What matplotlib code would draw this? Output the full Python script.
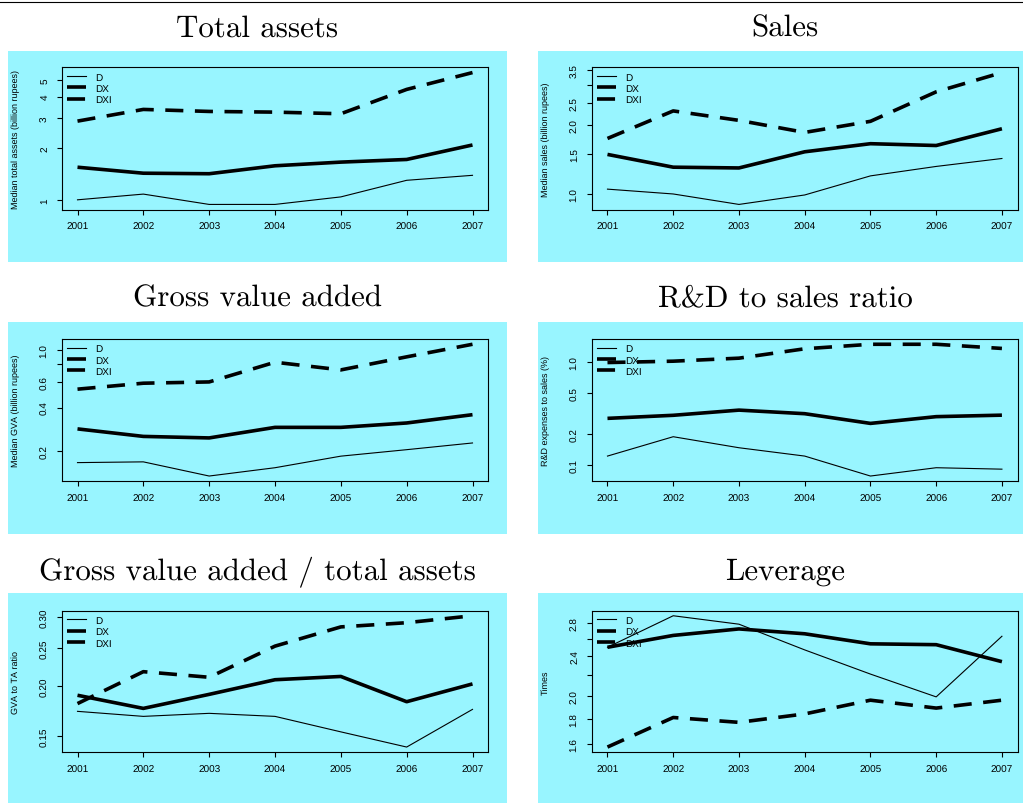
import matplotlib
matplotlib.use("Agg")
import numpy as np
import matplotlib.pyplot as plt
from matplotlib.patches import Rectangle
from matplotlib.lines import Line2D
from matplotlib.ticker import FixedLocator, FixedFormatter, NullLocator

plt.rcParams["font.family"] = ["Liberation Sans", "DejaVu Sans"]
plt.rcParams["text.hinting"] = "no_hinting"
plt.rcParams["text.hinting_factor"] = 1

W, H = 1023, 804
CYAN = "#98F5FF"  # R "cadetblue1"

years = [2001, 2002, 2003, 2004, 2005, 2006, 2007]

# median total assets (billion rupees)
ta_d = [1.00, 1.08, 0.94, 0.94, 1.04, 1.30, 1.39]
ta_dx = [1.55, 1.43, 1.42, 1.58, 1.66, 1.72, 2.09]
ta_dxi = [2.88, 3.37, 3.28, 3.25, 3.18, 4.41, 5.53]

# median sales (billion rupees)
sales_d = [1.05, 1.00, 0.90, 0.99, 1.20, 1.32, 1.43]
sales_dx = [1.49, 1.31, 1.30, 1.53, 1.66, 1.63, 1.93]
sales_dxi = [1.75, 2.31, 2.10, 1.86, 2.08, 2.80, 3.40]

# median gross value added (billion rupees)
gva_d = [0.167, 0.169, 0.135, 0.154, 0.185, 0.205, 0.228]
gva_dx = [0.285, 0.253, 0.247, 0.292, 0.292, 0.313, 0.357]
gva_dxi = [0.535, 0.588, 0.600, 0.820, 0.726, 0.893, 1.090]

# R&D expenses to sales (%)
rd_d = [0.123, 0.189, 0.148, 0.123, 0.079, 0.095, 0.092]
rd_dx = [0.284, 0.304, 0.341, 0.315, 0.254, 0.295, 0.305]
rd_dxi = [0.98, 1.01, 1.08, 1.33, 1.47, 1.47, 1.34]

# GVA to total assets ratio
gta_d = [0.173, 0.168, 0.171, 0.168, 0.1535, 0.1405, 0.175]
gta_dx = [0.190, 0.176, 0.191, 0.208, 0.212, 0.183, 0.203]
gta_dxi = [0.181, 0.218, 0.211, 0.253, 0.283, 0.290, 0.302]

# leverage (times)
lev_d = [2.50, 2.89, 2.78, 2.47, 2.21, 1.99, 2.63]
lev_dx = [2.50, 2.64, 2.72, 2.66, 2.54, 2.53, 2.34]
lev_dxi = [1.58, 1.81, 1.77, 1.84, 1.96, 1.89, 1.96]

panels = [
    ("Total assets", "Median total assets (billion rupees)", ta_d, ta_dx, ta_dxi,
     [1, 2, 3, 4, 5], ["1", "2", "3", "4", "5"]),
    ("Sales", "Median sales (billion rupees)", sales_d, sales_dx, sales_dxi,
     [1.0, 1.5, 2.0, 2.5, 3.0, 3.5], ["1.0", "1.5", "2.0", "2.5", "", "3.5"]),
    ("Gross value added", "Median GVA (billion rupees)", gva_d, gva_dx, gva_dxi,
     [0.2, 0.4, 0.6, 0.8, 1.0], ["0.2", "0.4", "0.6", "", "1.0"]),
    ("R&D to sales ratio", "R&D expenses to sales (%)", rd_d, rd_dx, rd_dxi,
     [0.1, 0.2, 0.5, 1.0], ["0.1", "0.2", "0.5", "1.0"]),
    ("Gross value added / total assets", "GVA to TA ratio", gta_d, gta_dx, gta_dxi,
     [0.15, 0.20, 0.25, 0.30], ["0.15", "0.20", "0.25", "0.30"]),
    ("Leverage", "Times", lev_d, lev_dx, lev_dxi,
     [1.6, 1.8, 2.0, 2.2, 2.4, 2.6, 2.8], ["1.6", "1.8", "2.0", "", "2.4", "", "2.8"]),
]


def fbox(x0, y0, x1, y1):
    # pixel box (top-left origin) -> figure fraction [left, bottom, width, height]
    return [x0 / W, 1 - y1 / H, (x1 - x0) / W, (y1 - y0) / H]


fig = plt.figure(figsize=(W / 100, H / 100), dpi=100)
fig.patch.set_facecolor("white")

# thin rule at the very top
fig.add_artist(Line2D([0, 1], [1 - 3 / H, 1 - 3 / H], color="black", lw=0.8,
                      transform=fig.transFigure))

col_axes = [(61.7, 488.3), (591.7, 1017.7)]
col_bg = [(8, 507), (538, 1032)]
row_axes = [(68.3, 210.7), (340, 482.3), (611.5, 753.3)]
row_bg = [(51.5, 263), (322.7, 535), (594, 806)]
row_title = [29, 299, 572]

for i, (title, ylabel, d, dx, dxi, ticks, tlabels) in enumerate(panels):
    r, c = divmod(i, 2)
    bx0, bx1 = col_bg[c]
    by0, by1 = row_bg[r]
    fig.add_artist(Rectangle((bx0 / W, 1 - by1 / H), (bx1 - bx0) / W, (by1 - by0) / H,
                             transform=fig.transFigure, facecolor=CYAN,
                             edgecolor="none", zorder=0))
    fig.text((bx0 + bx1) / 2 / W, 1 - row_title[r] / H, title, family="cmr10",
             fontsize=22.3, ha="center", va="center")

    ax = fig.add_axes(fbox(col_axes[c][0], row_axes[r][0], col_axes[c][1], row_axes[r][1]))
    ax.set_facecolor(CYAN)
    ax.plot(years, d, color="black", lw=0.8, label="D")
    ax.plot(years, dx, color="black", lw=2.6, label="DX", solid_capstyle="butt")
    ax.plot(years, dxi, color="black", lw=2.6, ls=(0, (5, 3.2)), label="DXI",
            dash_capstyle="butt")

    ax.set_yscale("log")
    allv = np.log10(np.concatenate([d, dx, dxi]))
    lo, hi = allv.min(), allv.max()
    pad = 0.04 * (hi - lo)
    ax.set_ylim(10 ** (lo - pad), 10 ** (hi + pad))
    ax.set_xlim(years[0] - 0.04 * (years[-1] - years[0]), years[-1] + 0.04 * (years[-1] - years[0]))
    ax.yaxis.set_major_locator(FixedLocator(ticks))
    ax.yaxis.set_major_formatter(FixedFormatter(tlabels))
    ax.yaxis.set_minor_locator(NullLocator())
    ax.set_xticks(years)
    ax.set_xticklabels([str(y) for y in years])

    ax.tick_params(axis="both", direction="out", length=3.8, width=0.8,
                   labelsize=7.5, pad=5, colors="black")
    ax.tick_params(axis="y", labelrotation=90)
    for lab in ax.get_yticklabels():
        lab.set_va("center")
    for sp in ax.spines.values():
        sp.set_linewidth(0.8)

    ax.set_ylabel(ylabel, fontsize=6.6)
    ax.yaxis.set_label_coords(-42 / (col_axes[c][1] - col_axes[c][0]), 0.5)

    ax.legend(loc="upper left", frameon=False, fontsize=7.3, handlelength=1.9,
              handletextpad=0.9, labelspacing=0.2, borderaxespad=0.2,
              borderpad=0.3)

fig.savefig("out.png", dpi=100)
